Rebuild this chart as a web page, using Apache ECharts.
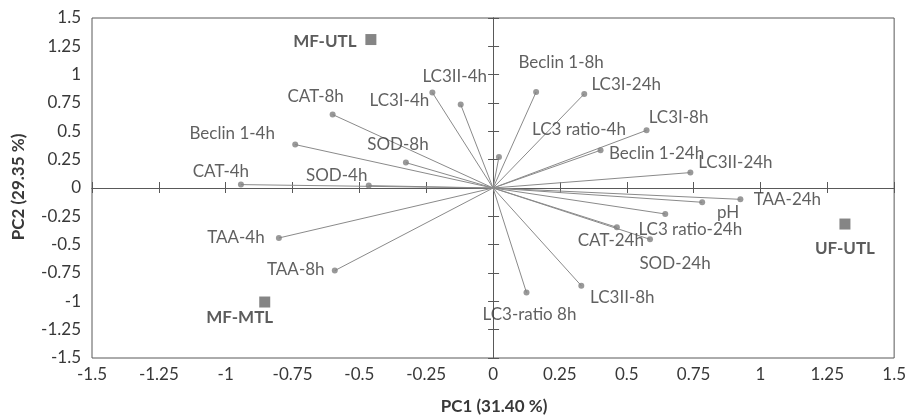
<!DOCTYPE html>
<html>
<head>
<meta charset="utf-8">
<script src="https://cdn.jsdelivr.net/npm/echarts@6/dist/echarts.min.js"></script>
<style>
html,body{margin:0;padding:0;background:#fff;}
#chart{width:909px;height:415px;}
</style>
</head>
<body>
<div id="chart"></div>
<script>
// Variable loadings (PC1, PC2)
const variables = ['CAT-4h','SOD-4h','Beclin 1-4h','SOD-8h','CAT-8h','LC3I-4h','LC3II-4h','LC3 ratio-4h','Beclin 1-8h','LC3I-24h','LC3I-8h','Beclin 1-24h','LC3II-24h','TAA-24h','pH','LC3 ratio-24h','CAT-24h','SOD-24h','LC3II-8h','LC3-ratio 8h','TAA-4h','TAA-8h'];
const varPC1 = [-0.943,-0.465,-0.740,-0.326,-0.600,-0.227,-0.121,0.022,0.161,0.341,0.574,0.402,0.738,0.925,0.782,0.644,0.463,0.587,0.330,0.125,-0.801,-0.592];
const varPC2 = [0.030,0.021,0.383,0.224,0.648,0.842,0.736,0.274,0.847,0.830,0.509,0.333,0.136,-0.100,-0.126,-0.229,-0.347,-0.453,-0.862,-0.923,-0.441,-0.729];
// Sample scores
const groups = ['MF-UTL','UF-UTL','MF-MTL'];
const groupPC1 = [-0.457,1.316,-0.854];
const groupPC2 = [1.310,-0.318,-1.006];
// Axis ticks
const axisMin = -1.5, axisMax = 1.5, axisStep = 0.25;

// Label placement (pixel offsets from marker, layout only)
const varLabelOffset = {
  'CAT-4h':[-20,-13],'SOD-4h':[-32,-10],'Beclin 1-4h':[-63,-11],'SOD-8h':[-8,-18],'CAT-8h':[-17,-18],
  'LC3I-4h':[-33,8],'LC3II-4h':[-6,-28],'LC3 ratio-4h':[80,-27],'Beclin 1-8h':[25,-29],'LC3I-24h':[42,-9],
  'LC3I-8h':[32,-13],'Beclin 1-24h':[56,3],'LC3II-24h':[45,-10],'TAA-24h':[47,0],'pH':[26,10],
  'LC3 ratio-24h':[25,16],'CAT-24h':[-6,13],'SOD-24h':[25,24],'LC3II-8h':[41,12],'LC3-ratio 8h':[3,22],
  'TAA-4h':[-43,0],'TAA-8h':[-39,-1]
};
const groupLabelOffset = {'MF-UTL':[-46,2],'UF-UTL':[0,24],'MF-MTL':[-25,16]};

const FONT = 'Lato';
const FS = 17;
const TXT = '#383838';
const AX = '#595959';

const varPoints = variables.map((n,i)=>({
  name:n, value:[varPC1[i],varPC2[i]],
  label:{offset:varLabelOffset[n]}
}));
const vecLines = variables.map((n,i)=>({coords:[[0,0],[varPC1[i],varPC2[i]]]}));
const groupPoints = groups.map((n,i)=>({
  name:n, value:[groupPC1[i],groupPC2[i]],
  label:{offset:groupLabelOffset[n]}
}));

function baseAxis(extra){
  return Object.assign({type:'value',min:axisMin,max:axisMax,interval:axisStep,splitLine:{show:false}},extra);
}
const chart = echarts.init(document.getElementById('chart'),null,{renderer:'canvas'});
chart.setOption({
  animation:false,
  backgroundColor:'#fff',
  grid:{left:92,right:12,top:18,bottom:57,show:true,borderColor:AX,borderWidth:1,containLabel:false},
  xAxis:[
    baseAxis({position:'bottom',axisLine:{show:false,onZero:false},axisTick:{show:false},
      axisLabel:{show:true,color:TXT,fontFamily:FONT,fontSize:FS,margin:8}}),
    baseAxis({position:'top',axisLine:{show:true,onZero:true,lineStyle:{color:AX,width:1}},
      axisTick:{show:true,inside:false,length:6,lineStyle:{color:AX}},axisLabel:{show:false}}),
    baseAxis({position:'bottom',axisLine:{show:true,onZero:true,lineStyle:{color:AX,width:1}},
      axisTick:{show:true,inside:false,length:5,lineStyle:{color:AX}},axisLabel:{show:false}})
  ],
  yAxis:[
    baseAxis({position:'left',axisLine:{show:false,onZero:false},axisTick:{show:false},
      axisLabel:{show:true,color:TXT,fontFamily:FONT,fontSize:FS,margin:11}}),
    baseAxis({position:'left',axisLine:{show:true,onZero:true,lineStyle:{color:AX,width:1}},
      axisTick:{show:true,inside:false,length:5,lineStyle:{color:AX}},axisLabel:{show:false}}),
    baseAxis({position:'right',axisLine:{show:true,onZero:true,lineStyle:{color:AX,width:1}},
      axisTick:{show:true,inside:false,length:6,lineStyle:{color:AX}},axisLabel:{show:false}})
  ],
  graphic:[
    {type:'text',x:494,y:407,style:{text:'PC1 (31.40 %)',font:'bold 17px '+FONT,fill:TXT,textAlign:'center',textVerticalAlign:'middle'}},
    {type:'text',x:19,y:187,rotation:Math.PI/2,style:{text:'PC2 (29.35 %)',font:'bold 17px '+FONT,fill:TXT,textAlign:'center',textVerticalAlign:'middle'}}
  ],
  series:[
    {type:'lines',coordinateSystem:'cartesian2d',xAxisIndex:0,yAxisIndex:0,silent:true,
     lineStyle:{color:'#8a8a8a',width:1,opacity:1,curveness:0},data:vecLines,z:2},
    {type:'scatter',xAxisIndex:0,yAxisIndex:0,symbol:'circle',symbolSize:6,
     itemStyle:{color:'#808080'},data:varPoints,z:3,
     label:{show:true,position:'inside',formatter:'{b}',color:TXT,fontFamily:FONT,fontSize:FS,align:'center',verticalAlign:'middle'}},
    {type:'scatter',xAxisIndex:0,yAxisIndex:0,symbol:'rect',symbolSize:11,
     itemStyle:{color:'#666666'},data:groupPoints,z:3,
     label:{show:true,position:'inside',formatter:'{b}',color:'#333',fontFamily:FONT,fontWeight:'bold',fontSize:FS,align:'center',verticalAlign:'middle'}}
  ]
});
</script>
</body>
</html>
